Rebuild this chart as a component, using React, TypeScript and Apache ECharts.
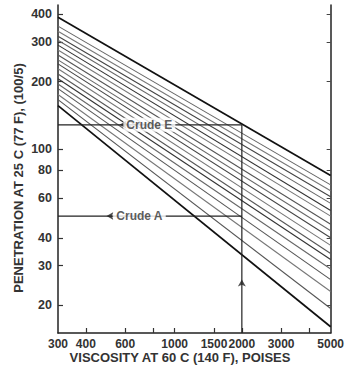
import React, { useEffect, useRef } from "react";
import * as echarts from "echarts";

// Penetration (100/5) at 300 poises (left end) and at 5000 poises (right end) for each crude
const leftValues = [388, 354, 336, 319, 306, 291, 277, 263, 250, 240, 228, 216, 206, 195, 186, 175, 166, 156];
const rightValues = [76, 69, 65, 61, 57, 53, 50, 46, 43, 40, 37, 34, 32, 29, 26, 23, 19.3, 16];
const lineColors = [
  "#111", "#666", "#777", "#444", "#666", "#333", "#777", "#555", "#666",
  "#444", "#777", "#555", "#333", "#666", "#555", "#777", "#555", "#111",
];

const xTickLabels = [300, 400, 600, 1000, 1500, 2000, 3000, 5000];
const xTicks = [400, 600, 800, 1000, 1500, 2000, 3000, 4000];
const yTickLabels = [20, 30, 40, 60, 80, 100, 200, 300, 400];

const viscStart = 300;
const viscEnd = 5000;
const viscSelected = 2000;
const crudeE = 128;
const crudeA = 50;
const penMin = 15;
const penMax = 440;

const FONT = '"Liberation Sans", Arial, Helvetica, sans-serif';

export default function App() {
  const ref = useRef<HTMLDivElement>(null);
  useEffect(() => {
    document.body.style.margin = "0";
    const chart = echarts.init(ref.current!, null, { renderer: "svg" });
    const crudeSeries: any[] = leftValues.map((lv, i) => ({
      type: "line",
      data: [
        [viscStart, lv],
        [viscEnd, rightValues[i]],
      ],
      symbol: "none",
      silent: true,
      lineStyle: {
        color: lineColors[i],
        width: i === 0 || i === leftValues.length - 1 ? 1.7 : 1.1,
      },
      z: 2,
    }));
    const annot = { color: "#222", width: 1.2 };
    const plain = (v: number) => String(Math.round(v));
    const option: any = {
      animation: false,
      backgroundColor: "#fff",
      grid: { left: 58, right: 14, top: 5, bottom: 37, containLabel: false },
      xAxis: {
        type: "log",
        logBase: 10,
        min: viscStart,
        max: viscEnd,
        axisLine: { lineStyle: { color: "#222", width: 1.5 } },
        axisTick: {
          inside: true,
          length: 5,
          customValues: xTicks,
          lineStyle: { color: "#333", width: 1.2 },
        },
        axisLabel: {
          customValues: xTickLabels,
          formatter: plain,
          fontFamily: FONT,
          fontWeight: "bold",
          fontSize: 12,
          color: "#333",
          margin: 5,
        },
        splitLine: { show: false },
        minorTick: { show: false },
      },
      yAxis: [
        {
          type: "log",
          logBase: 10,
          min: penMin,
          max: penMax,
          position: "left",
          axisLine: { show: true, lineStyle: { color: "#222", width: 1.5 } },
          axisTick: {
            show: true,
            inside: true,
            length: 5,
            customValues: yTickLabels,
            lineStyle: { color: "#333", width: 1.2 },
          },
          axisLabel: {
            customValues: yTickLabels,
            formatter: plain,
            fontFamily: FONT,
            fontWeight: "bold",
            fontSize: 12.5,
            color: "#333",
            margin: 6,
          },
          splitLine: { show: false },
        },
        {
          type: "log",
          logBase: 10,
          min: penMin,
          max: penMax,
          position: "right",
          axisLine: { show: true, lineStyle: { color: "#222", width: 1.5 } },
          axisTick: {
            show: true,
            inside: true,
            length: 4,
            customValues: yTickLabels,
            lineStyle: { color: "#444", width: 1 },
          },
          axisLabel: { show: false },
          splitLine: { show: false },
        },
      ],
      series: [
        ...crudeSeries,
        {
          type: "line",
          data: [
            [viscStart, crudeE],
            [viscSelected, crudeE],
          ],
          symbol: "none",
          lineStyle: annot,
          z: 3,
        },
        {
          type: "line",
          data: [
            [viscStart, crudeA],
            [viscSelected, crudeA],
          ],
          symbol: "none",
          lineStyle: annot,
          z: 3,
        },
        {
          type: "line",
          data: [
            [viscSelected, crudeE],
            [viscSelected, penMin],
          ],
          symbol: "none",
          lineStyle: annot,
          z: 3,
        },
        {
          type: "scatter",
          symbol: "arrow",
          symbolSize: [6, 7],
          itemStyle: { color: "#222" },
          data: [
            { value: [566, crudeE], symbolRotate: 90 },
            { value: [495, crudeA], symbolRotate: 90 },
            { value: [viscSelected, 26], symbolRotate: 0 },
          ],
          z: 5,
        },
        {
          type: "scatter",
          symbolSize: 0,
          data: [
            { value: [770, crudeE], name: "Crude E" },
            { value: [695, crudeA], name: "Crude A" },
          ],
          label: {
            show: true,
            position: "inside",
            formatter: (p: any) => p.name,
            fontFamily: FONT,
            fontWeight: "bold",
            fontSize: 12,
            color: "#333",
            backgroundColor: "#fff",
            padding: [1, 3],
          },
          z: 6,
        },
      ],
      graphic: [
        {
          type: "text",
          x: 18,
          y: 178,
          rotation: Math.PI / 2,
          style: {
            text: "PENETRATION AT 25 C (77 F), (100/5)",
            font: `bold 13px ${FONT}`,
            fill: "#333",
            align: "center",
            verticalAlign: "middle",
          },
        },
        {
          type: "text",
          x: 180,
          y: 357,
          style: {
            text: "VISCOSITY AT 60 C (140 F), POISES",
            font: `bold 13px ${FONT}`,
            fill: "#333",
            align: "center",
            verticalAlign: "middle",
          },
        },
      ],
    };
    chart.setOption(option);
    return () => chart.dispose();
  }, []);
  return <div ref={ref} style={{ width: 347, height: 370 }} />;
}
